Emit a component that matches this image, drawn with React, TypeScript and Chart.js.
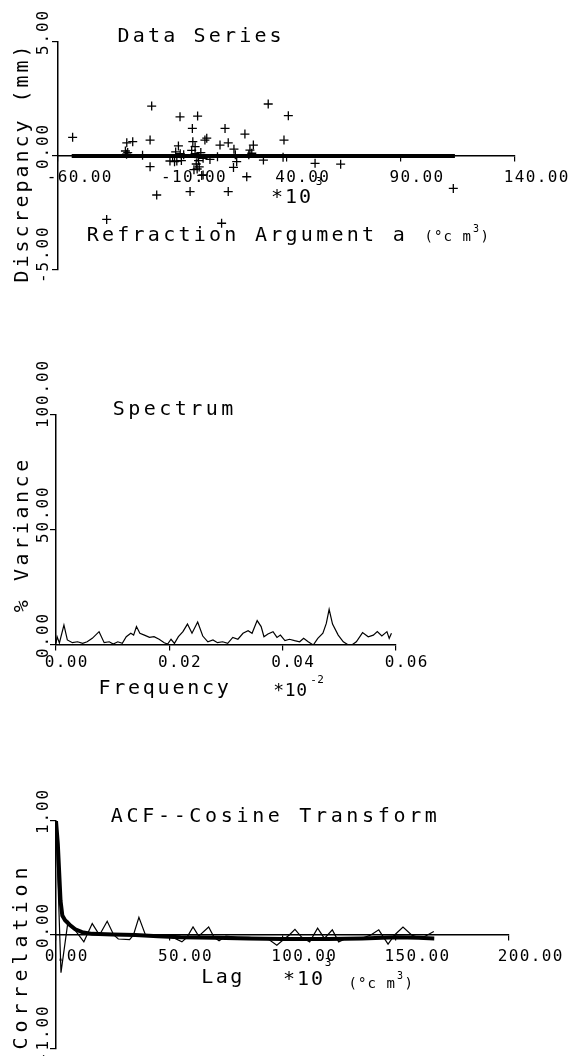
import React, { useEffect, useRef } from 'react';
import { Chart, registerables } from 'chart.js';

Chart.register(...registerables);

const FONT = '"DejaVu Sans Mono", "Liberation Mono", monospace';

// ---------- Panel 1: Data Series ----------
const DS_X_TICKS = [-60, -10, 40, 90, 140];
const DS_Y_TICKS = [-5, 0, 5];
const DS_X = [-53.6, -19.0, -29.9, -27.3, -19.7, -19.7, -16.8, -6.6, 1.1, -1.2, -7.3, -1.0, 0.0, 5.1, 4.3, 13.1, 10.9, 14.5, 21.8, 25.5, 22.6, 14.5, -2.2, 3.5, 0.9, 2.9, -38.7, 11.6, 32.0, 40.8, 38.9, 52.5, 63.7, 113.0,
  -30.5, -29.5, -30.0, -23.0, -8.5, -6.5, -5.0, -8.0, -6.0, -11.0, -9.0, -1.5, 0.0, 0.8, 1.5, 0.5, 1.8, -0.5, 2.5, 3.5, 6.5, 9.8, 17.0, 17.6, 18.2, 16.8, 24.0, 24.8, 23.5, 29.9, 38.5];
const DS_Y = [0.82, 2.19, 0.58, 0.63, 0.70, -0.47, -1.71, 1.72, 1.75, 1.21, 0.44, 0.63, 0.41, 0.78, 0.70, 1.21, 0.48, 0.58, 0.96, 0.48, -0.91, -1.56, -1.56, -0.83, -0.57, -0.85, -2.78, -2.95, 2.28, 1.77, 0.70, -0.32, -0.36, -1.42,
  0.22, 0.15, 0.08, 0.03, 0.18, 0.10, 0.05, -0.22, -0.20, -0.22, -0.25, 0.25, 0.10, -0.05, -0.20, -0.35, -0.48, -0.60, 0.15, -0.10, -0.15, -0.03, 0.30, 0.05, -0.25, -0.50, 0.26, 0.12, 0.05, -0.18, -0.06];
const DS_BAND_X = [-54, 113.7];
const DS_BAND_Y = [0, 0];

// ---------- Panel 2: Spectrum ----------
const SP_X_TICKS = [0, 0.02, 0.04, 0.06];
const SP_Y_TICKS = [0, 50, 100];
const SP_FREQ = [0.0000, 0.0002, 0.0006, 0.0014, 0.0020, 0.0029, 0.0038, 0.0047, 0.0055, 0.0064, 0.0076, 0.0085, 0.0094, 0.0101, 0.0109, 0.0117, 0.0124, 0.0132, 0.0137, 0.0142, 0.0148, 0.0156, 0.0165, 0.0173, 0.0182, 0.0191, 0.0197, 0.0203, 0.0209, 0.0216, 0.0224, 0.0232, 0.0240, 0.0250, 0.0259, 0.0268, 0.0277, 0.0285, 0.0294, 0.0303, 0.0312, 0.0321, 0.0330, 0.0339, 0.0346, 0.0355, 0.0362, 0.0367, 0.0374, 0.0383, 0.0390, 0.0396, 0.0404, 0.0412, 0.0421, 0.0430, 0.0437, 0.0445, 0.0454, 0.0462, 0.0471, 0.0477, 0.0482, 0.0488, 0.0498, 0.0507, 0.0516, 0.0522, 0.0530, 0.0541, 0.0551, 0.0560, 0.0567, 0.0575, 0.0584, 0.0588, 0.0592];
const SP_VAR = [0.7, 3.6, 0.9, 8.7, 2.2, 1.0, 1.4, 0.7, 1.4, 2.9, 5.8, 1.0, 1.4, 0.4, 1.4, 0.7, 3.6, 5.1, 4.3, 8.0, 5.1, 4.3, 3.3, 3.6, 2.5, 1.0, 0.4, 2.5, 0.7, 3.6, 5.8, 9.1, 5.1, 10.0, 3.9, 1.4, 2.2, 1.0, 1.4, 0.7, 3.3, 2.5, 5.1, 6.2, 5.1, 10.6, 8.0, 3.6, 4.8, 5.8, 3.3, 4.3, 1.9, 2.5, 1.9, 1.4, 2.9, 1.4, 0.0, 2.9, 5.1, 9.4, 15.5, 9.1, 4.3, 1.4, 0.0, 0.0, 1.4, 5.4, 3.6, 4.3, 5.8, 3.9, 5.8, 2.9, 5.1];

// ---------- Panel 3: ACF--Cosine Transform ----------
const ACF_X_TICKS = [0, 50, 100, 150, 200];
const ACF_Y_TICKS = [-1, 0, 1];
const ACF_LAG = [0, 2.2, 5.3, 8.5, 12.3, 16, 19.2, 22.6, 25.5, 27.5, 32.5, 34.2, 36.6, 39.5, 45, 49, 52.5, 55.6, 57.8, 60.5, 63, 67.4, 69.8, 72, 75, 80, 85, 90, 94, 97.5, 100.5, 103, 105.5, 108.5, 112, 115.5, 118.5, 122, 124.8, 128, 135, 139, 142.5, 146.6, 149.5, 153.2, 157, 161, 164, 166.8];
const ACF_RAW = [1.0, -0.33, 0.12, 0.04, -0.06, 0.10, 0.0, 0.12, 0.0, -0.035, -0.04, 0.0, 0.155, 0.0, 0.0, -0.01, -0.03, -0.06, -0.02, 0.07, -0.01, 0.07, -0.02, -0.05, -0.01, -0.02, -0.02, -0.03, -0.04, -0.09, -0.04, 0.0, 0.05, -0.02, -0.06, 0.06, -0.03, 0.045, -0.06, -0.03, -0.03, 0.0, 0.045, -0.08, 0.0, 0.07, 0.0, -0.03, 0.0, 0.03];
const COS_LAG = [0, 0.8, 2.0, 2.8, 4, 6, 8.5, 11.5, 16, 25, 35, 45, 55, 70, 85, 100, 120, 135, 150, 160, 167];
const COS_VAL = [1.0, 0.8, 0.3, 0.17, 0.13, 0.09, 0.05, 0.025, 0.01, 0.005, 0.0, -0.01, -0.02, -0.025, -0.03, -0.035, -0.035, -0.03, -0.02, -0.025, -0.03];

const zip = (xs: number[], ys: number[]) => xs.map((x, i) => ({ x, y: ys[i] }));

// ---------- text helpers ----------
function drawMono(ctx: CanvasRenderingContext2D, text: string, x: number, y: number, adv: number, size: number) {
  ctx.font = `${size}px ${FONT}`;
  ctx.textAlign = 'center';
  ctx.textBaseline = 'alphabetic';
  for (let i = 0; i < text.length; i++) {
    ctx.fillText(text[i], x + adv * i + adv / 2, y);
  }
}
function drawMonoUp(ctx: CanvasRenderingContext2D, text: string, x: number, yBottom: number, adv: number, size: number) {
  ctx.save();
  ctx.translate(x, yBottom);
  ctx.rotate(-Math.PI / 2);
  drawMono(ctx, text, 0, 0, adv, size);
  ctx.restore();
}
function drawTickLabels(ctx: CanvasRenderingContext2D, chart: any, xTicks: number[], yTicks: number[], xBaseOff: number) {
  const xs = chart.scales.x;
  const ys = chart.scales.y;
  const y0 = ys.getPixelForValue(0);
  xTicks.forEach((v) => drawMono(ctx, v.toFixed(2), xs.getPixelForValue(v) - 12, y0 + xBaseOff, 11, 16));
  yTicks.forEach((v) => drawMonoUp(ctx, v.toFixed(2), 48, ys.getPixelForValue(v) + 14, 11.5, 16));
}
function drawUnits(ctx: CanvasRenderingContext2D, x: number, y: number) {
  drawMono(ctx, '(\u00b0c m', x, y, 9.5, 14);
  drawMono(ctx, '3', x + 49, y - 9, 6, 10);
  drawMono(ctx, ')', x + 56, y, 9.5, 14);
}

function axis(min: number, max: number, ticks: number[], position: any, isX: boolean) {
  return {
    type: 'linear',
    min,
    max,
    position,
    grid: { drawOnChartArea: false, drawTicks: true, tickLength: isX ? 5 : 6, color: '#000', lineWidth: 1.2 },
    border: { display: true, color: '#000', width: 1.5 },
    ticks: { display: false },
    afterBuildTicks: (s: any) => { s.ticks = ticks.map((v) => ({ value: v })); },
    afterFit: (s: any) => { if (isX) s.height = 0; else s.width = 0; },
  };
}

const W = 571;
const H = 1056;

function makeChart(canvas: HTMLCanvasElement, cfg: any) {
  return new Chart(canvas, {
    type: 'scatter',
    data: { datasets: cfg.datasets },
    options: {
      responsive: false,
      animation: false,
      events: [],
      layout: { padding: cfg.padding },
      plugins: { legend: { display: false }, tooltip: { enabled: false }, title: { display: false } },
      scales: {
        x: axis(cfg.xMin, cfg.xMax, cfg.xTicks, { y: 0 }, true),
        y: axis(cfg.yMin, cfg.yMax, cfg.yTicks, 'left', false),
      },
    } as any,
    plugins: [{
      id: 'panelText' + cfg.id,
      afterDraw(chart: any) {
        const ctx = chart.ctx;
        ctx.save();
        ctx.fillStyle = '#000';
        cfg.drawText(ctx, chart);
        ctx.restore();
      },
    }],
  } as any);
}

export default function App() {
  const c1 = useRef<HTMLCanvasElement>(null);
  const c2 = useRef<HTMLCanvasElement>(null);
  const c3 = useRef<HTMLCanvasElement>(null);

  useEffect(() => {
    const charts: Chart[] = [];
    charts.push(makeChart(c1.current!, {
      id: 1,
      padding: { left: 58, right: W - 515, top: 42, bottom: H - 270 },
      xMin: -60, xMax: 140, yMin: -5, yMax: 5,
      xTicks: DS_X_TICKS, yTicks: DS_Y_TICKS,
      datasets: [
        { data: zip(DS_BAND_X, DS_BAND_Y), showLine: true, borderColor: '#000', borderWidth: 4, pointRadius: 0, borderCapStyle: 'butt' },
        { data: zip(DS_X, DS_Y), pointStyle: 'cross', pointRadius: 4.5, pointBorderWidth: 1.3, borderColor: '#000', backgroundColor: '#000' },
      ],
      drawText: (ctx: CanvasRenderingContext2D, chart: any) => {
        drawMono(ctx, 'Data Series', 116, 42, 15.2, 20);
        drawTickLabels(ctx, chart, DS_X_TICKS, DS_Y_TICKS, 26);
        drawMono(ctx, '*10', 270, 203, 14, 20);
        drawMono(ctx, '3', 316, 185, 6, 11);
        drawMono(ctx, 'Refraction Argument a', 85, 241, 15.3, 20);
        drawUnits(ctx, 424, 241);
        drawMonoUp(ctx, 'Discrepancy (mm)', 28, 284, 15, 20);
      },
    }));
    charts.push(makeChart(c2.current!, {
      id: 2,
      padding: { left: 56, right: W - 396, top: 415, bottom: H - 645 },
      xMin: 0, xMax: 0.06, yMin: 0, yMax: 100,
      xTicks: SP_X_TICKS, yTicks: SP_Y_TICKS,
      datasets: [
        { data: zip(SP_FREQ, SP_VAR), showLine: true, borderColor: '#000', borderWidth: 1.2, pointRadius: 0, tension: 0 },
      ],
      drawText: (ctx: CanvasRenderingContext2D, chart: any) => {
        drawMono(ctx, 'Spectrum', 111, 415, 15.5, 20);
        drawTickLabels(ctx, chart, SP_X_TICKS, SP_Y_TICKS, 22);
        drawMono(ctx, 'Frequency', 97, 694, 14.8, 20);
        drawMono(ctx, '*10', 273, 696, 11.5, 18);
        drawMono(ctx, '-2', 310, 683, 7, 11);
        drawMonoUp(ctx, '% Variance', 28, 614, 15.6, 20);
      },
    }));
    charts.push(makeChart(c3.current!, {
      id: 3,
      padding: { left: 56, right: W - 509, top: 821, bottom: H - 1049 },
      xMin: 0, xMax: 200, yMin: -1, yMax: 1,
      xTicks: ACF_X_TICKS, yTicks: ACF_Y_TICKS,
      datasets: [
        { data: zip(ACF_LAG, ACF_RAW), showLine: true, borderColor: '#000', borderWidth: 1.2, pointRadius: 0, tension: 0 },
        { data: zip(COS_LAG, COS_VAL), showLine: true, borderColor: '#000', borderWidth: 4, pointRadius: 0, tension: 0 },
      ],
      drawText: (ctx: CanvasRenderingContext2D, chart: any) => {
        drawMono(ctx, 'ACF--Cosine Transform', 109, 822, 15.7, 20);
        drawTickLabels(ctx, chart, ACF_X_TICKS, ACF_Y_TICKS, 26);
        drawMono(ctx, 'Lag', 200, 983, 14.5, 20);
        drawMono(ctx, '*10', 282, 985, 14, 20);
        drawMono(ctx, '3', 325, 966, 6, 11);
        drawUnits(ctx, 348, 988);
        drawMonoUp(ctx, 'Correlation', 27, 1052, 17, 20);
      },
    }));
    return () => { charts.forEach((c) => c.destroy()); };
  }, []);

  const cs: React.CSSProperties = { position: 'absolute', left: 0, top: 0, width: W, height: H, display: 'block' };
  return (
    <div style={{ position: 'absolute', left: 0, top: 0, width: W, height: H, background: '#fff', overflow: 'hidden' }}>
      <canvas ref={c1} width={W} height={H} style={cs} />
      <canvas ref={c2} width={W} height={H} style={cs} />
      <canvas ref={c3} width={W} height={H} style={cs} />
    </div>
  );
}
